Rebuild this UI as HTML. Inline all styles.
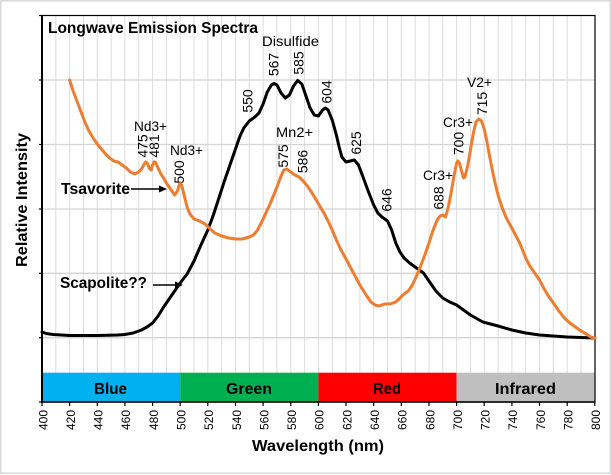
<!DOCTYPE html>
<html><head><meta charset="utf-8"><style>
html,body{margin:0;padding:0;background:#fff;}
svg{display:block;}
text{font-family:"Liberation Sans",sans-serif;fill:#000;}
.b{font-weight:bold;}
</style></head><body>
<svg width="611" height="475" viewBox="0 0 611 475" xmlns="http://www.w3.org/2000/svg">
<rect x="0" y="0" width="611" height="475" fill="#fff"/>
<rect x="0.75" y="0.75" width="609.5" height="472.5" fill="none" stroke="#d9d9d9" stroke-width="1.5"/>

<!-- vertical gridlines every 10nm -->
<g stroke="#dcdcdc" stroke-width="1">
<line x1="55.8" y1="15" x2="55.8" y2="373"/><line x1="69.6" y1="15" x2="69.6" y2="373"/><line x1="83.5" y1="15" x2="83.5" y2="373"/><line x1="97.3" y1="15" x2="97.3" y2="373"/><line x1="111.1" y1="15" x2="111.1" y2="373"/><line x1="124.9" y1="15" x2="124.9" y2="373"/><line x1="138.7" y1="15" x2="138.7" y2="373"/><line x1="152.6" y1="15" x2="152.6" y2="373"/><line x1="166.4" y1="15" x2="166.4" y2="373"/><line x1="180.2" y1="15" x2="180.2" y2="373"/><line x1="194.0" y1="15" x2="194.0" y2="373"/><line x1="207.8" y1="15" x2="207.8" y2="373"/><line x1="221.7" y1="15" x2="221.7" y2="373"/><line x1="235.5" y1="15" x2="235.5" y2="373"/><line x1="249.3" y1="15" x2="249.3" y2="373"/><line x1="263.1" y1="15" x2="263.1" y2="373"/><line x1="276.9" y1="15" x2="276.9" y2="373"/><line x1="290.8" y1="15" x2="290.8" y2="373"/><line x1="304.6" y1="15" x2="304.6" y2="373"/><line x1="318.4" y1="15" x2="318.4" y2="373"/><line x1="332.2" y1="15" x2="332.2" y2="373"/><line x1="346.0" y1="15" x2="346.0" y2="373"/><line x1="359.9" y1="15" x2="359.9" y2="373"/><line x1="373.7" y1="15" x2="373.7" y2="373"/><line x1="387.5" y1="15" x2="387.5" y2="373"/><line x1="401.3" y1="15" x2="401.3" y2="373"/><line x1="415.1" y1="15" x2="415.1" y2="373"/><line x1="429.0" y1="15" x2="429.0" y2="373"/><line x1="442.8" y1="15" x2="442.8" y2="373"/><line x1="456.6" y1="15" x2="456.6" y2="373"/><line x1="470.4" y1="15" x2="470.4" y2="373"/><line x1="484.2" y1="15" x2="484.2" y2="373"/><line x1="498.1" y1="15" x2="498.1" y2="373"/><line x1="511.9" y1="15" x2="511.9" y2="373"/><line x1="525.7" y1="15" x2="525.7" y2="373"/><line x1="539.5" y1="15" x2="539.5" y2="373"/><line x1="553.3" y1="15" x2="553.3" y2="373"/><line x1="567.2" y1="15" x2="567.2" y2="373"/><line x1="581.0" y1="15" x2="581.0" y2="373"/>
</g>
<!-- horizontal gridlines -->
<g stroke="#d4d4d4" stroke-width="1.3">
<line x1="42" y1="80" x2="595" y2="80"/>
<line x1="42" y1="144.5" x2="595" y2="144.5"/>
<line x1="42" y1="209" x2="595" y2="209"/>
<line x1="42" y1="273.3" x2="595" y2="273.3"/>
<line x1="42" y1="337.7" x2="595" y2="337.7"/>
</g>

<!-- color bar -->
<rect x="42" y="372.7" width="138.2" height="29.3" fill="#00b0f0"/>
<rect x="180.2" y="372.7" width="138.2" height="29.3" fill="#00b050"/>
<rect x="318.4" y="372.7" width="138.2" height="29.3" fill="#ff0000"/>
<rect x="456.6" y="372.7" width="138.4" height="29.3" fill="#bfbfbf"/>
<text class="b" x="94" y="394" font-size="16" textLength="33" lengthAdjust="spacingAndGlyphs" fill="#111">Blue</text>
<text class="b" x="226" y="394" font-size="16" textLength="46" lengthAdjust="spacingAndGlyphs" fill="#111">Green</text>
<text class="b" x="373" y="394" font-size="16" textLength="28" lengthAdjust="spacingAndGlyphs" fill="#111">Red</text>
<text class="b" x="495" y="394" font-size="16" textLength="61" lengthAdjust="spacingAndGlyphs" fill="#111">Infrared</text>

<!-- frame -->
<rect x="42" y="15.5" width="553" height="386.5" fill="none" stroke="#000" stroke-width="1.2"/>
<line x1="42" y1="15" x2="42" y2="403" stroke="#000" stroke-width="2"/>
<line x1="42" y1="402" x2="595" y2="402" stroke="#000" stroke-width="1.5"/>
<!-- y ticks -->
<g stroke="#000" stroke-width="1.2">
<line x1="39" y1="15.5" x2="42" y2="15.5"/><line x1="39" y1="80" x2="42" y2="80"/><line x1="39" y1="144.5" x2="42" y2="144.5"/><line x1="39" y1="209" x2="42" y2="209"/><line x1="39" y1="273.3" x2="42" y2="273.3"/><line x1="39" y1="337.7" x2="42" y2="337.7"/><line x1="39" y1="402" x2="42" y2="402"/>
</g>
<!-- x ticks every 20 -->
<g stroke="#000" stroke-width="1.2">
<line x1="42" y1="402" x2="42" y2="406"/><line x1="69.6" y1="402" x2="69.6" y2="406"/><line x1="97.3" y1="402" x2="97.3" y2="406"/><line x1="124.9" y1="402" x2="124.9" y2="406"/><line x1="152.6" y1="402" x2="152.6" y2="406"/><line x1="180.2" y1="402" x2="180.2" y2="406"/><line x1="207.8" y1="402" x2="207.8" y2="406"/><line x1="235.5" y1="402" x2="235.5" y2="406"/><line x1="263.1" y1="402" x2="263.1" y2="406"/><line x1="290.8" y1="402" x2="290.8" y2="406"/><line x1="318.4" y1="402" x2="318.4" y2="406"/><line x1="346.0" y1="402" x2="346.0" y2="406"/><line x1="373.7" y1="402" x2="373.7" y2="406"/><line x1="401.3" y1="402" x2="401.3" y2="406"/><line x1="429.0" y1="402" x2="429.0" y2="406"/><line x1="456.6" y1="402" x2="456.6" y2="406"/><line x1="484.2" y1="402" x2="484.2" y2="406"/><line x1="511.9" y1="402" x2="511.9" y2="406"/><line x1="539.5" y1="402" x2="539.5" y2="406"/><line x1="567.2" y1="402" x2="567.2" y2="406"/><line x1="594.8" y1="402" x2="594.8" y2="406"/>
</g>
<!-- x tick labels -->
<g font-size="12" text-anchor="end">
<text transform="translate(43,410) rotate(-90)" y="4.3">400</text>
<text transform="translate(70.6,410) rotate(-90)" y="4.3">420</text>
<text transform="translate(98.3,410) rotate(-90)" y="4.3">440</text>
<text transform="translate(125.9,410) rotate(-90)" y="4.3">460</text>
<text transform="translate(153.6,410) rotate(-90)" y="4.3">480</text>
<text transform="translate(181.2,410) rotate(-90)" y="4.3">500</text>
<text transform="translate(208.8,410) rotate(-90)" y="4.3">520</text>
<text transform="translate(236.5,410) rotate(-90)" y="4.3">540</text>
<text transform="translate(264.1,410) rotate(-90)" y="4.3">560</text>
<text transform="translate(291.8,410) rotate(-90)" y="4.3">580</text>
<text transform="translate(319.4,410) rotate(-90)" y="4.3">600</text>
<text transform="translate(347.0,410) rotate(-90)" y="4.3">620</text>
<text transform="translate(374.7,410) rotate(-90)" y="4.3">640</text>
<text transform="translate(402.3,410) rotate(-90)" y="4.3">660</text>
<text transform="translate(430.0,410) rotate(-90)" y="4.3">680</text>
<text transform="translate(457.6,410) rotate(-90)" y="4.3">700</text>
<text transform="translate(485.2,410) rotate(-90)" y="4.3">720</text>
<text transform="translate(512.9,410) rotate(-90)" y="4.3">740</text>
<text transform="translate(540.5,410) rotate(-90)" y="4.3">760</text>
<text transform="translate(568.2,410) rotate(-90)" y="4.3">780</text>
<text transform="translate(595.8,410) rotate(-90)" y="4.3">800</text>
</g>

<!-- axis titles -->
<text class="b" x="318" y="451" font-size="16" text-anchor="middle" textLength="132" lengthAdjust="spacingAndGlyphs">Wavelength (nm)</text>
<text class="b" transform="translate(27,200) rotate(-90)" font-size="16" text-anchor="middle" textLength="134" lengthAdjust="spacingAndGlyphs">Relative Intensity</text>
<text class="b" x="48" y="33" font-size="15.5" textLength="210" lengthAdjust="spacingAndGlyphs">Longwave Emission Spectra</text>

<!-- curves -->
<g transform="matrix(1.382 0 0 1 -510.8 0)" fill="none" stroke-linejoin="round" stroke-linecap="round">
<polyline vector-effect="non-scaling-stroke" stroke="#000" stroke-width="3" points="400,332 403,333.5 408,334.5 420,335.5 440,335.5 455,335 460,334.5 466,333 472,330 476,327 480,323 484,316 488,307 492,299 496,291 500,283 505,274 510,261 515,245 520,230 524,215 528,198 532,181 536,165 540,149 543,137 546,128 550,121 554,117 557,113 560,104 563,92 566,85 568,83.5 570,85 573,93 576,98 579,95 582,86 585,80.5 588,84 591,96 594,108 597,115 600,116 603,110 605,108 607,110 610,120 613,135 615,147 617,157 620,162 623,161 626,160 629,165 632,176 636,191 640,205 643,213 646,217 650,221 653,230 656,243 659,252 662,258 666,263 670,267 676,273 680,281 685,291 690,298 695,302 700,305 705,310 710,315 719,322 730,326 740,330 750,333 760,335 780,337 800,338"/>
<polyline vector-effect="non-scaling-stroke" stroke="#ed7d31" stroke-width="3" points="420,80 422,89 425,100 428,111 431,122 434,131 437,138 440,144 443,149 446,154 449,158 452,161 455,162 458,165 461,168 464,172 467,174 470,172 472,169 474,164 475,162 476,163 478,169 479,170 480,165 481,162 482,162 484,168 486,174 488,178 490,183 493,189 496,195 498,191 499,186 500,183 501,185 503,196 505,207 507,214 510,219 514,221 518,224 521,228 525,233 530,236 535,238 540,239 545,239 550,237 553,235 556,230 559,222 562,213 565,204 568,194 570,187 573,176 575,170 577,169 580,172 583,175 586,177 589,181 592,186 595,192 598,199 601,206 604,213 607,221 610,230 613,240 616,249 620,259 625,272 630,285 635,296 638,302 641,305 644,306 648,304 652,304 656,302 659,298 662,294 665,291 668,285 671,276 674,266 677,255 680,243 683,230 686,220 688,216 690,215 692,217 694,207 696,193 698,177 700,163 701,161 702,163 704,173 705,178 706,177 708,166 710,150 712,134 714,122 716,119 718,121 720,129 722,142 724,157 726,171 728,184 730,195 733,208 736,218 740,228 743,236 746,244 750,258 753,266 756,272 760,280 763,288 766,295 770,303 774,311 778,318 782,323 786,327 790,331 794,334 797,337 800,338"/>
</g>

<!-- annotations -->
<g font-size="14">
<text x="134" y="131" textLength="33" lengthAdjust="spacingAndGlyphs">Nd3+</text>
<text x="170" y="155" textLength="33" lengthAdjust="spacingAndGlyphs">Nd3+</text>
<text x="262" y="46" textLength="57" lengthAdjust="spacingAndGlyphs">Disulfide</text>
<text x="276" y="137" textLength="37" lengthAdjust="spacingAndGlyphs">Mn2+</text>
<text x="467" y="87" textLength="25" lengthAdjust="spacingAndGlyphs">V2+</text>
<text x="443" y="127" textLength="30" lengthAdjust="spacingAndGlyphs">Cr3+</text>
<text x="423" y="180" textLength="30" lengthAdjust="spacingAndGlyphs">Cr3+</text>
</g>
<g font-size="14" text-anchor="middle">
<text transform="translate(142.5,146) rotate(-90)" y="5">475</text>
<text transform="translate(154,146) rotate(-90)" y="5">481</text>
<text transform="translate(179,172) rotate(-90)" y="5">500</text>
<text transform="translate(247.5,101) rotate(-90)" y="5">550</text>
<text transform="translate(273.5,64.5) rotate(-90)" y="5">567</text>
<text transform="translate(298.5,63) rotate(-90)" y="5">585</text>
<text transform="translate(283,156) rotate(-90)" y="5">575</text>
<text transform="translate(302.5,161.5) rotate(-90)" y="5">586</text>
<text transform="translate(326.5,92) rotate(-90)" y="5">604</text>
<text transform="translate(356,143) rotate(-90)" y="5">625</text>
<text transform="translate(386.5,200) rotate(-90)" y="5">646</text>
<text transform="translate(438.5,198) rotate(-90)" y="5">688</text>
<text transform="translate(458.5,143.5) rotate(-90)" y="5">700</text>
<text transform="translate(482,103.5) rotate(-90)" y="5">715</text>
</g>

<!-- series labels with arrows -->
<text class="b" x="61" y="194" font-size="15.5" textLength="69" lengthAdjust="spacingAndGlyphs">Tsavorite</text>
<line x1="131" y1="189" x2="160" y2="189" stroke="#000" stroke-width="1.5"/>
<polygon points="167,189 159,185.5 159,192.5" fill="#000"/>
<text class="b" x="60" y="288" font-size="15.5" textLength="87" lengthAdjust="spacingAndGlyphs">Scapolite??</text>
<line x1="153" y1="285" x2="176" y2="285" stroke="#000" stroke-width="1.5"/>
<polygon points="183,285 175,281.5 175,288.5" fill="#000"/>
</svg>
</body></html>
